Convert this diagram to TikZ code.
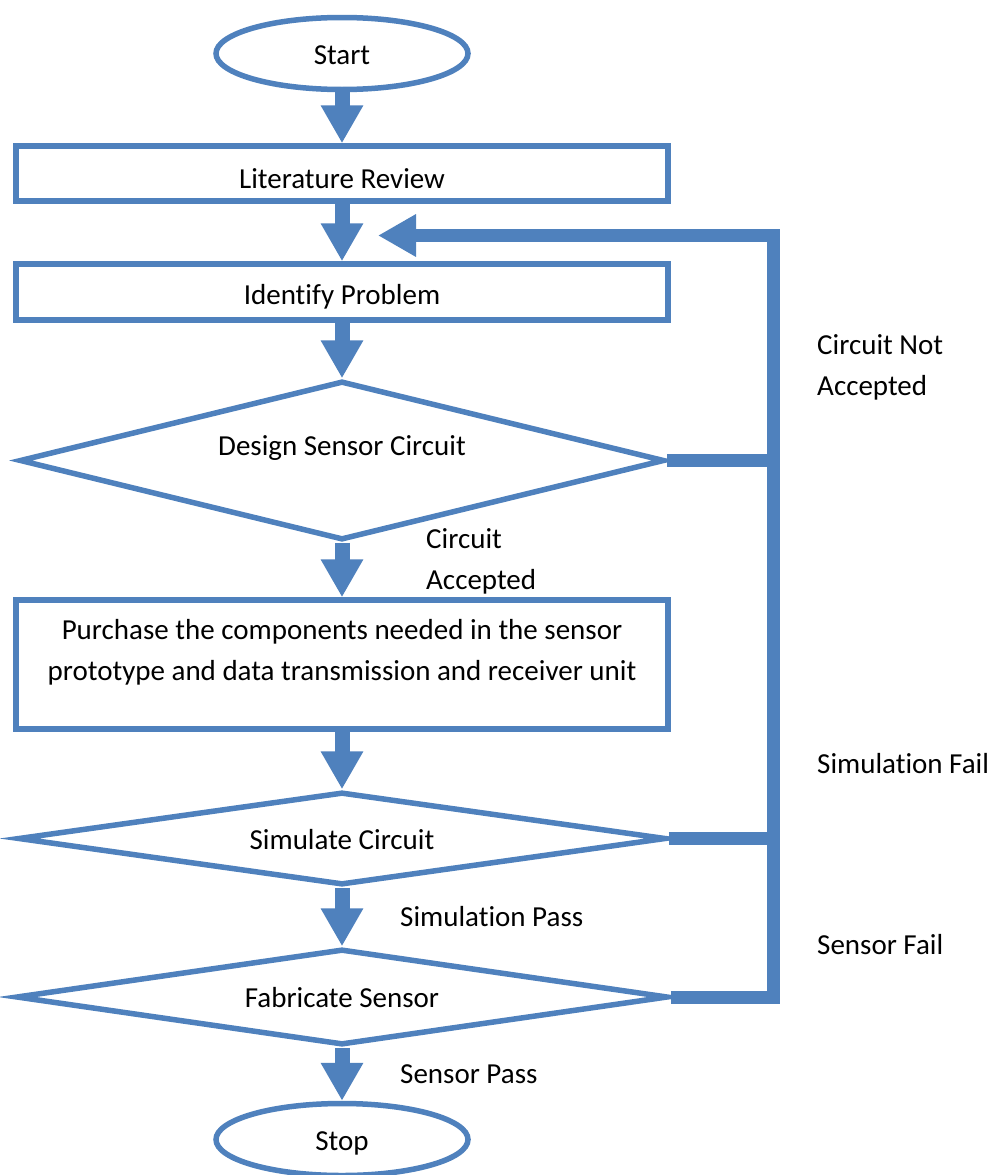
\documentclass[tikz,border=0pt]{standalone}
\usepackage{fontspec}
\setmainfont{Carlito}[Ligatures=NoCommon]
\usetikzlibrary{shapes.geometric, arrows.meta}
\definecolor{flowblue}{HTML}{4F81BD}
\begin{document}
\begin{tikzpicture}[x=1pt, y=-1pt,
  every node/.style={font=\fontsize{29}{41}\selectfont, text=black, inner sep=0pt},
  shapeline/.style={draw=flowblue, line width=5.5pt, fill=white},
  terminal/.style={shapeline, ellipse, minimum width=252pt, minimum height=72pt},
  process/.style={shapeline, rectangle, minimum width=652pt},
  decision/.style={shapeline, diamond},
  capline/.style={text height=#1, text depth=0pt},
  flowtip/.tip={Triangle[width=40pt, length=38pt]},
  flow/.style={flowblue, line width=15pt, -flowtip},
  loopline/.style={flowblue, line width=13pt, line join=miter},
  note/.style={anchor=base west, align=left},
]
\useasboundingbox (0,0) rectangle (995,1175);
\fill[white] (0,0) rectangle (995,1175);

% main column
\node[terminal, capline=22.3pt] (start) at (342,53.5) {Start};
\node[process, minimum height=55pt, capline=29.3pt] (lit) at (342,173.5) {Literature Review};
\node[process, minimum height=56pt, capline=25.3pt] (idp) at (342,292) {Identify Problem};
\node[decision, minimum width=645pt, minimum height=159pt, aspect=4.06,
      text height=18.3pt, text depth=28pt] (dsc) at (342,460.5) {Design Sensor Circuit};
\node[process, minimum height=129pt] (buy) at (342,664.5) {};
\node[align=center] (buytxt) at (342,652) {Purchase the components needed in the sensor\\prototype and data transmission and receiver unit};
\node[decision, minimum width=648pt, minimum height=93pt, aspect=6.97, capline=21.3pt] (sim) at (342,838.5) {Simulate Circuit};
\node[decision, minimum width=652pt, minimum height=96pt, aspect=6.8, capline=21.3pt] (fab) at (342,997) {Fabricate Sensor};
\node[terminal, capline=22.3pt] (stop) at (342,1139.5) {Stop};

% forward flow
\draw[flow] (start.south) -- (lit.north);
\draw[flow] (lit.south) -- (idp.north);
\draw[flow] (idp.south) -- (dsc.north);
\draw[flow] (dsc.south) -- (buy.north);
\draw[flow] (buy.south) -- (sim.north);
\draw[flow] (sim.south) -- (fab.north);
\draw[flow] (fab.south) -- (stop.north);

% feedback loop back to the problem definition
\coordinate (rtop) at (773,235.5);
\coordinate (rin) at (378,235.5);
\draw[loopline, -flowtip] (fab.east) -| (rtop) -- (rin);
\draw[loopline] (dsc.east) -- (dsc.east -| rtop);
\draw[loopline] (sim.east) -- (sim.east -| rtop);

% branch labels (base anchor sits on the last line)
\node[note] (acc) at (426,589) {Circuit\\Accepted};
\node[note] (notacc) at (817,395.5) {Circuit Not\\Accepted};
\node[note] (simpass) at (400,926.5) {Simulation Pass};
\node[note] (simfail) at (817,773.5) {Simulation Fail};
\node[note] (senfail) at (817,954) {Sensor Fail};
\node[note] (senpass) at (400,1083) {Sensor Pass};
\end{tikzpicture}
\end{document}
